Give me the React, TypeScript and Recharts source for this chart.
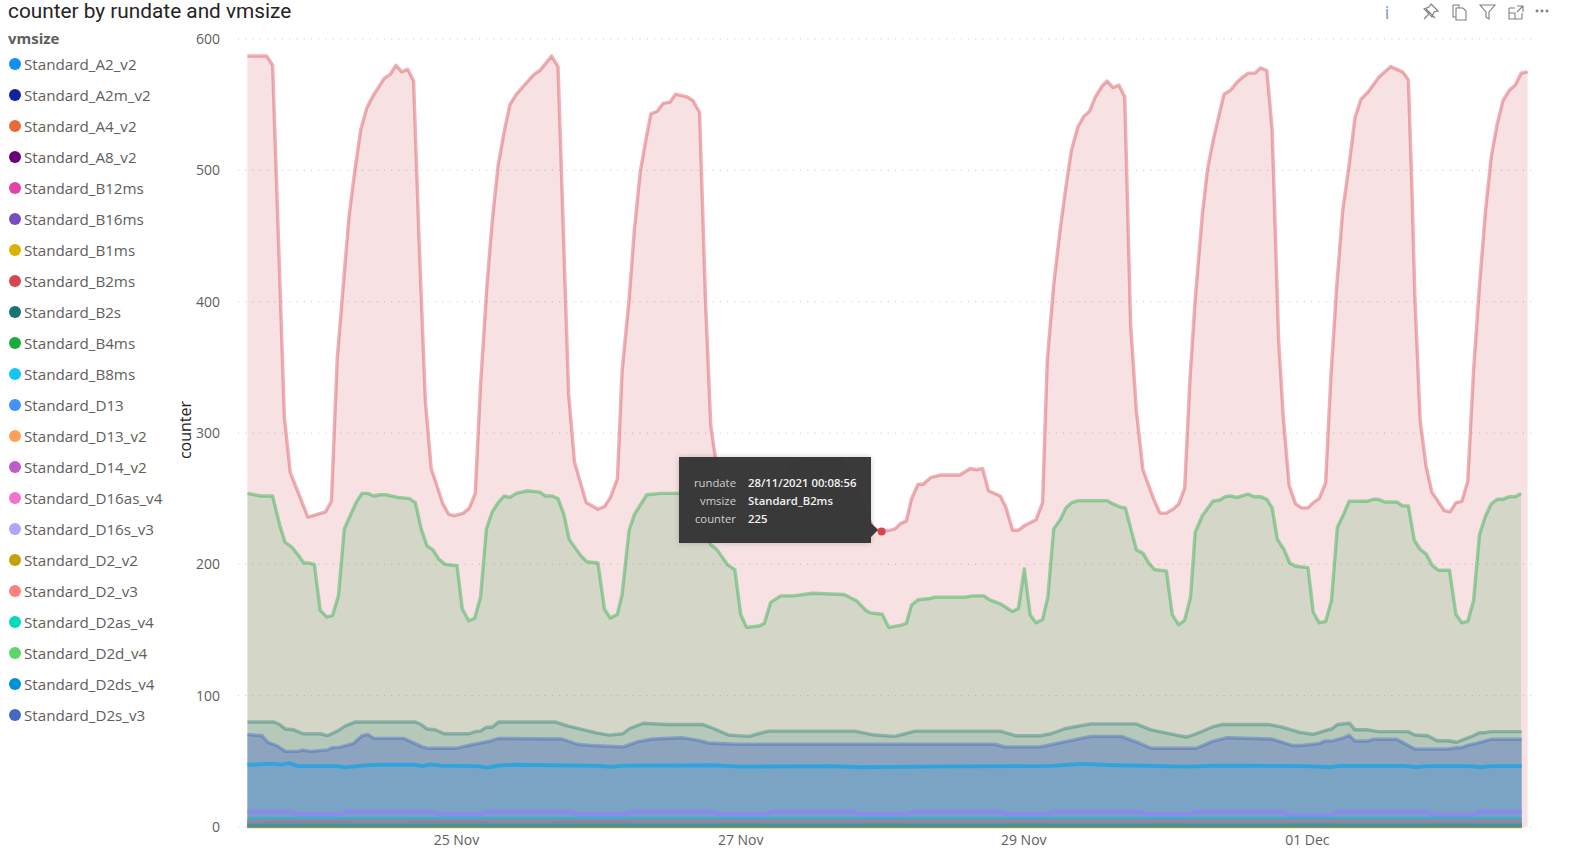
import React from 'react';
import { ComposedChart, Area, XAxis, YAxis, CartesianGrid, ReferenceDot } from 'recharts';

type P = [number, number];

const tickHours = [35.6, 84, 132.2, 180.5];
const tickLabels = ['25 Nov', '27 Nov', '29 Nov', '01 Dec'];
const valueTicks = [0, 100, 200, 300, 400, 500, 600];

const B2ms: P[] = [[0,587],[3.3,587],[4.3,580],[6.3,312],[7.3,270],[10.3,236],[13.3,240],[14.3,248],[15.3,357],[17.3,465],[18.3,500],[19.3,531],[20.3,547],[21.3,556],[23.3,570],[24.3,573],[25.3,580],[26.3,575],[27.3,577],[28.3,568],[29.3,439],[30.3,325],[31.3,273],[33.3,246],[34.3,238],[35.3,237],[36.8,239],[37.8,243],[38.8,254],[39.7,337],[40.8,413],[41.7,462],[42.7,504],[43.7,529],[44.7,550],[45.8,558],[48.8,573],[49.8,576],[51.8,587],[52.9,579],[54.7,330],[55.7,278],[57.7,247],[59.7,242],[60.8,244],[61.8,251],[63,265],[63.8,347],[65,402],[65.9,455],[66.9,499],[67.8,522],[68.7,543],[69.8,545],[70.8,551],[72,552],[72.9,558],[74.9,556],[75.9,553],[77,544],[78,402],[78.9,306],[79.7,281],[81.4,245],[84,229],[87.5,228],[89,245],[91,262],[93,277],[95.3,280],[101,280],[103.5,258],[106.5,228],[108,225],[109.5,226],[110.3,227],[111.2,231],[112.2,233],[113.1,250],[114.2,261],[115.1,261],[116.3,266],[118,268],[121.3,268],[123.1,273],[124.2,272],[125.2,273],[126.2,256],[128.2,252],[129.2,243],[130.3,226],[131.3,226],[132.5,230],[134.3,234],[135.4,247],[136.2,355],[137.3,413],[138.4,455],[139.4,488],[140.3,515],[141.4,533],[142.4,541],[143.4,545],[144.4,556],[145.5,564],[146.4,568],[147.4,563],[148.4,565],[149.4,556],[150.4,383],[151.4,316],[152.5,272],[154.3,250],[155.4,239],[156.5,239],[157.6,242],[158.6,246],[159.6,258],[160.5,341],[161.4,402],[162.6,466],[163.5,501],[164.5,524],[166.3,558],[167.4,561],[168.5,567],[169.5,571],[170.4,574],[171.6,574],[172.5,578],[173.6,576],[174.5,531],[175,459],[175.6,371],[176.4,312],[177.4,260],[178.5,246],[179.5,243],[180.6,243],[181.5,247],[182.5,250],[183.6,262],[184.5,343],[185.5,412],[186.5,469],[187.6,504],[188.6,540],[189.6,554],[190.9,560],[192.7,571],[193.7,575],[194.7,579],[196.7,575],[197.7,569],[198.3,487],[198.8,404],[199.7,310],[200.7,275],[201.7,255],[203.8,241],[204.8,240],[205.8,247],[206.8,248],[207.8,263],[208.8,348],[209.8,412],[210.8,468],[211.8,510],[212.8,535],[213.8,553],[214.9,561],[215.9,565],[216.9,574],[218,575]];

const B4ms: P[] = [[0,254],[2.3,252],[4.3,252],[5.5,230],[6.4,217],[7.6,213],[8.5,208],[9.6,201],[10.4,201],[11.4,200],[12.4,165],[13.5,160],[14.5,161],[15.5,176],[16.5,227],[17.5,237],[18.5,247],[19.5,254],[20.5,254],[21.5,252],[22.6,253],[23.6,253],[25.6,251],[27.6,250],[28.6,247],[29.6,227],[30.6,214],[31.6,211],[32.6,204],[33.7,200],[35.7,199],[36.6,166],[37.7,157],[38.7,159],[39.7,175],[40.7,227],[41.7,240],[42.7,247],[43.7,252],[44.7,251],[45.8,254],[47.6,256],[49.8,255],[50.8,252],[51.9,252],[52.9,250],[53.9,238],[54.8,219],[56.7,207],[57.8,202],[59.7,201],[60.8,166],[61.8,159],[63,162],[63.8,177],[65,226],[65.9,238],[68,253],[70.3,254],[73.5,254],[76,254],[77,248],[78,228],[78.9,215],[80,211],[81.7,200],[83,196],[84,162],[85,152],[87.1,153],[88,155],[89.1,171],[90.8,176],[93,176],[96.2,178],[101.6,177],[103.8,172],[105.3,165],[106.1,163],[108.1,162],[109.2,152],[111.2,153.5],[112.2,155],[113.1,169],[114.2,173],[116.3,174],[117.1,175],[122.2,175],[123.4,176],[125.4,176],[126.4,173],[128.2,170],[130.3,164],[131.3,166.5],[132.3,196.5],[133.3,161.5],[134.3,155.5],[135.4,158],[136.3,175],[137.3,227],[138.4,234],[139.4,243],[140.4,247],[141.5,248.5],[146.4,248.5],[147.4,246],[148.7,243.5],[149.5,243],[150.5,226],[151.4,211],[152.5,208.5],[153.5,201],[154.5,196],[156.5,195],[157.5,161.5],[158.6,154],[159.6,157.5],[160.6,175],[161.4,224.5],[162.6,237],[164.4,248],[165.6,249],[166.5,251.5],[167.4,252],[168.5,251],[170.4,253.5],[171.4,251.5],[172.5,251.5],[173.6,249.5],[174.5,243],[175.4,219],[176.5,211.5],[177.5,201],[178.5,198.5],[180.6,197.5],[181.5,163.5],[182.5,155.5],[183.6,156.5],[184.6,172.5],[185.6,228],[186.6,237.5],[187.6,248],[190.6,248],[191.7,249.5],[192.6,249.5],[193.7,247.5],[195.7,247.5],[196.7,244.5],[197.7,244.5],[198.7,218.5],[199.7,211.5],[200.7,208],[201.8,199],[202.8,195.5],[204.7,195.5],[205.8,162],[206.8,155.5],[207.8,156.5],[208.8,172.5],[209.8,222.5],[210.8,236.5],[211.8,246],[212.8,249.5],[213.8,249.5],[214.9,251.5],[215.9,251.5],[216.9,254]];

const B2s: P[] = [[0,80],[4.5,80],[5.5,78],[6.5,74.6],[7.9,74],[9.5,71],[12.4,71],[13.6,69.5],[15.3,73],[16.7,77],[18.4,80],[28.6,80],[29.6,78],[30.6,74.6],[32,74],[33.5,71],[37.7,71],[38.9,72.8],[39.7,73],[40.7,76],[41.7,76],[42.8,80],[52.4,80],[54.5,77],[59.6,71.5],[61.7,70],[63.9,71],[65.1,75],[67.4,79],[71.6,78],[77.6,78],[79.4,75],[81.9,70],[85.4,69],[87,71],[88.8,73],[103.4,73],[106.8,70],[110.2,69],[112,71],[113.7,73],[128.2,73],[130.8,69.5],[135,69.5],[136.8,71],[139.3,75],[143.6,78.5],[151.3,78.5],[153.9,74],[158.2,70],[159.9,68.5],[161.6,71],[164.2,76],[165.9,78],[174,78],[176.2,76],[179.2,72],[181.5,70.6],[183.5,73.4],[184.6,74.6],[185.6,78],[187.7,79],[188.6,74],[190.8,74],[192.6,72.6],[197.7,72.6],[198.8,70],[201,69.5],[202.6,65.7],[204.5,65.7],[205.9,64.5],[207.6,67.5],[208.7,69.3],[209.8,71.8],[210.7,71.8],[211.6,72.6],[217,72.6]];

const D2s: P[] = [[0,70.5],[2.5,69.5],[3.5,64.5],[5,62],[6.5,57.6],[8.7,57.6],[9.3,58.6],[10.7,57.6],[13.6,58.6],[14.4,60.4],[15.6,60.6],[18.1,63.7],[19.5,69.5],[20.5,70.5],[21.5,67.5],[26.6,67.5],[29.8,61],[30.6,60],[35.7,60],[36.9,61.4],[41.4,65.5],[42.8,67.5],[53.6,67],[56.2,63],[58.8,62],[64,61],[66.5,65],[69,67],[74,68],[76.8,66],[78.5,64],[83.6,63],[127.3,63],[129,61],[135,61],[139.3,65],[143.6,69],[148.8,69],[151.3,65],[153.9,60],[161.6,60],[164.2,65],[166.8,68],[174.5,67],[178,62],[179.2,62],[181.5,63],[182.6,63.7],[183.5,65.5],[184.9,65.7],[186.6,67.8],[187.6,69.8],[188.6,65.5],[190.8,65.5],[191.7,66.8],[195.7,66.8],[198.8,59.4],[204.5,59.4],[205.9,60.4],[206.8,60.4],[207.9,62.4],[209.3,63.7],[211.7,66.8],[217,66.8]];

const B8ms: P[] = [[0,47.4],[4.5,48.2],[5.6,47.4],[7,48.7],[8.7,46.4],[15.3,46.4],[16.7,45.4],[19.8,46.9],[22.7,47.4],[28.4,47.4],[29.8,46.4],[31.2,47.7],[32.9,46.7],[39.1,46.4],[40.8,45.2],[42.6,46.7],[45.4,47.4],[60,46.5],[62,45.8],[64,46.7],[80,47],[84,46],[100,46.3],[104,45.5],[110,45.8],[120,46.2],[137,46.5],[142,48],[148,47],[160,46],[165,46.8],[180,46.4],[184.5,45.6],[186,46.5],[197,46.5],[199,45.6],[201,46.4],[208,46.4],[210,45.6],[212,46.4],[217,46.4]];

const D16s: P[] = [[0,11.4],[7.3,11.4],[8.5,9.6],[15.6,9.6],[16.7,11.4],[31.5,11.4],[32.6,9.6],[39.7,9.6],[40.8,11.4],[55,11.4],[56.5,9.6],[64,9.6],[65.5,11.4],[79,11.4],[80.5,9.6],[88,9.6],[89.5,11.4],[103,11.4],[104.5,9.6],[112,9.6],[113.5,11.4],[128,11.4],[129.5,9.6],[136,9.6],[137.5,11.4],[152,11.4],[153.5,9.6],[160,9.6],[161.5,11.4],[176,11.4],[177.5,9],[184.6,9],[185.6,11.7],[200.5,11.7],[201.6,9.2],[208.7,9.2],[209.9,11.7],[217,11.7]];

const A2: P[] = [[0,1],[217,1]];
const A2m: P[] = [[0,2.6],[3,2.6],[4,3.4],[17,3.4],[18,2.6],[27,2.6],[28,3.4],[40,3.4],[41,2.6],[52,2.6],[53,3.4],[64,3.4],[65,2.6],[217,2.6]];
const A4: P[] = [[0,4],[217,4]];
const A8: P[] = [[0,1],[217,1]];
const B12: P[] = [[0,1],[217,1]];
const B16: P[] = [[0,1.5],[217,1.5]];
const B1: P[] = [[0,1],[217,1]];
const D13: P[] = [[0,1.5],[217,1.5]];
const D13v2: P[] = [[0,4],[217,4]];
const D14: P[] = [[0,1],[217,1]];
const D16as: P[] = [[0,1],[217,1]];
const D2v2: P[] = [[0,0.4],[217,0.4]];
const D2v3: P[] = [[0,4.6],[217,4.6]];
const D2as: P[] = [[0,6.6],[217,6.6]];
const D2d: P[] = [[0,1.9],[217,1.9]];
const D2ds: P[] = [[0,1],[217,1]];

const seriesNames = ['Standard_A2_v2','Standard_A2m_v2','Standard_A4_v2','Standard_A8_v2','Standard_B12ms','Standard_B16ms','Standard_B1ms','Standard_B2ms','Standard_B2s','Standard_B4ms','Standard_B8ms','Standard_D13','Standard_D13_v2','Standard_D14_v2','Standard_D16as_v4','Standard_D16s_v3','Standard_D2_v2','Standard_D2_v3','Standard_D2as_v4','Standard_D2d_v4','Standard_D2ds_v4','Standard_D2s_v3'];
const seriesColors = ['#118DFF','#12239E','#E66C37','#6B007B','#E044A7','#744EC2','#D9B300','#D64550','#197278','#1AAB40','#15C6F4','#4092FF','#FFA058','#BE5DC9','#F472D0','#B5A1FF','#C4A200','#FF8080','#00DBBC','#5BD667','#0091D5','#4668C5'];
const seriesPoints: P[][] = [A2,A2m,A4,A8,B12,B16,B1,B2ms,B2s,B4ms,B8ms,D13,D13v2,D14,D16as,D16s,D2v2,D2v3,D2as,D2d,D2ds,D2s];
const fillAlpha: Record<string, number> = { Standard_D2s_v3: 0.38, Standard_D16s_v3: 0.05, Standard_D2_v3: 0.05, Standard_D2as_v4: 0.1 };
const lineAlpha: Record<string, number> = { Standard_D16s_v3: 1, Standard_D2_v3: 0.6, Standard_D2as_v4: 0.5, Standard_D2s_v3: 0.42, Standard_A2m_v2: 1, Standard_D2d_v4: 0.55, Standard_D2_v2: 0.9, Standard_B8ms: 0.9, Standard_B2s: 0.38 };
const lineWidth: Record<string, number> = { Standard_D16s_v3: 4.5, Standard_B8ms: 3.8 };

const tooltipRows = [['rundate','28/11/2021 00:08:56'],['vmsize','Standard_B2ms'],['counter','225']];
const hoverPoint = { h: 108, v: 225 };

const FONT = '"Open Sans", "Noto Sans", sans-serif';

const Icons = () => (
  <svg width={190} height={30} viewBox="1386 0 190 30" style={{ position: 'absolute', left: 1386, top: 0 }} fill="none" stroke="#7f7f7f" strokeWidth={1.1}>
    <path d="M1424 19 l6 -6 M1426 9 l9 9 M1431 4 l7 7 l-4 1 l-2 5 l-8 -8 l5 -2 z" />
    <path d="M1453 5 h6 l0 3 M1453 5 v12 h3 M1457 8 h6 l3 3 v9 h-10 v-12 z" />
    <path d="M1480 5 h15 l-6 7 v7 l-3 -2 v-5 z" />
    <path d="M1509 8 h6 M1509 8 v11 h13 v-6 M1509 13 h6 v6 M1517 6 h6 v6 M1523 6 l-6 6" />
    <circle cx={1537} cy={11} r={0.9} fill="#7f7f7f" /><circle cx={1542} cy={11} r={0.9} fill="#7f7f7f" /><circle cx={1547} cy={11} r={0.9} fill="#7f7f7f" />
  </svg>
);

export default function App() {
  return (
    <div style={{ position: 'absolute', left: 0, top: 0, width: 1576, height: 851, background: '#fff', overflow: 'hidden', fontFamily: FONT }}>
      <ComposedChart width={1576} height={851} margin={{ top: 39, right: 39, bottom: 0, left: 0 }} style={{ position: 'absolute', left: 0, top: 0 }}>
        <CartesianGrid horizontal vertical={false} stroke="#c4c4c4" strokeDasharray="1 6.3" />
        <XAxis dataKey="h" type="number" domain={[-1.6, 219.6]} allowDataOverflow ticks={tickHours} height={24} interval={0}
          tickFormatter={(t: number) => tickLabels[tickHours.indexOf(t)]} axisLine={false} tickLine={false} tickMargin={2}
          tick={{ fill: '#605e5c', fontSize: 14, fontFamily: FONT }} />
        <YAxis type="number" domain={[0, 600]} ticks={valueTicks} width={238} axisLine={false} tickLine={false} tickMargin={12}
          tick={{ fill: '#605e5c', fontSize: 14, fontFamily: FONT }}
          label={{ value: 'counter', angle: -90, position: 'insideLeft', dx: 180, dy: -3, fill: '#252423', fontSize: 16, fontFamily: FONT, style: { textAnchor: 'middle' } }} />
        {seriesNames.map((name, i) => (
          <Area key={name} name={name} type="linear" data={seriesPoints[i].map(([h, v]) => ({ h, v }))} dataKey="v"
            stroke={seriesColors[i]} strokeWidth={lineWidth[name] ?? 3.4} strokeOpacity={lineAlpha[name] ?? 0.42} fill={seriesColors[i]} fillOpacity={fillAlpha[name] ?? 0.16}
            strokeLinejoin="round" dot={false} activeDot={false} isAnimationActive={false} />
        ))}
        <ReferenceDot x={hoverPoint.h} y={hoverPoint.v} r={4} fill="#D64550" stroke="none" />
      </ComposedChart>

      <div style={{ position: 'absolute', left: 8, top: -1, fontSize: 20.8, lineHeight: '25px', color: '#252423', fontFamily: 'Roboto, sans-serif', whiteSpace: 'nowrap' }}>counter by rundate and vmsize</div>
      <div style={{ position: 'absolute', left: 8, top: 28, fontSize: 15, lineHeight: '20px', fontWeight: 700, color: '#605e5c' }}>vmsize</div>
      {seriesNames.map((name, i) => (
        <div key={name} style={{ position: 'absolute', left: 9, top: 54 + 31 * i, height: 20, display: 'flex', alignItems: 'center', whiteSpace: 'nowrap' }}>
          <span style={{ width: 12, height: 12, borderRadius: 6, background: seriesColors[i], marginRight: 3 }} />
          <span style={{ fontSize: 15.2, color: '#605e5c' }}>{name}</span>
        </div>
      ))}
      <div style={{ position: 'absolute', left: 1380, top: 0, width: 14, textAlign: 'center', fontSize: 18, color: '#7a9cc6' }}>i</div>
      <Icons />
      <div style={{ position: 'absolute', left: 679, top: 457, width: 192, height: 86, background: 'rgba(52,52,52,0.97)', boxShadow: '0 0 6px rgba(0,0,0,0.2)' }}>
        {tooltipRows.map(([k, val], i) => (
          <div key={k} style={{ position: 'absolute', top: 17 + 18 * i, left: 0, height: 18, lineHeight: '18px', fontSize: 11.3, whiteSpace: 'nowrap' }}>
            <span style={{ position: 'absolute', right: -57, width: 80, textAlign: 'right', color: '#cfcfcf' }}>{k}</span>
            <span style={{ position: 'absolute', left: 69, color: '#f2f2f2', fontWeight: 600 }}>{val}</span>
          </div>
        ))}
      </div>
      <div style={{ position: 'absolute', left: 871, top: 523, width: 0, height: 0, borderTop: '7px solid transparent', borderBottom: '7px solid transparent', borderLeft: '7px solid rgba(52,52,52,0.97)' }} />
    </div>
  );
}
